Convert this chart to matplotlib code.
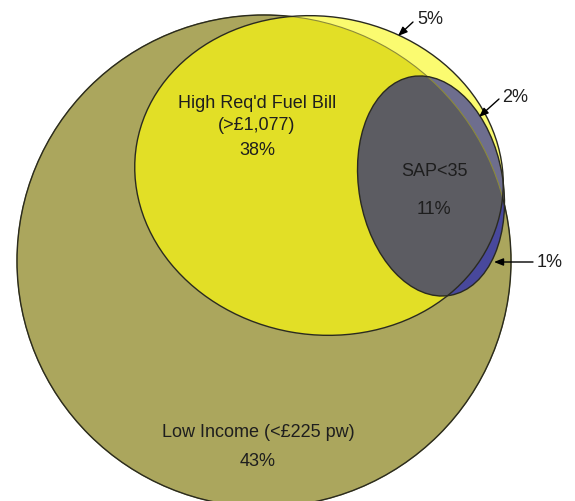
import numpy as np
import matplotlib.pyplot as plt
from matplotlib.patches import Ellipse
from matplotlib.path import Path

# === Data ===
set_labels = ["Low Income (<£225 pw)", "High Req'd Fuel Bill", "SAP<35"]
set_notes = ["", "(>£1,077)", ""]
set_shares = [43, 38, 11]
sliver_shares = [5, 2, 1]   # yellow outside olive, grey outside olive, grey outside yellow

# === Geometry / styles (pixel coords, y down) ===
W, H = 575, 502
OLIVE = dict(xy=(264, 262), width=494, height=492, angle=0)
YELLOW = dict(xy=(319, 176.5), width=370, height=318, angle=10)
GREY = dict(xy=(431, 187), width=144, height=222, angle=-10)

C_OLIVE = '#aba65d'
C_YEL_IN = '#e2df26'
C_YEL_OUT = '#fbfb70'
C_DARK = '#5c5c62'
C_SLATE = '#6e6e8e'
C_BLUE = '#48489c'
C_EDGE = '#2a2a20'
C_TEXT = '#1e1e1e'

plt.rcParams['font.family'] = ['Liberation Sans', 'DejaVu Sans']

fig = plt.figure(figsize=(W / 100, H / 100), dpi=100)
ax = fig.add_axes([0, 0, 1, 1])
ax.set_xlim(0, W)
ax.set_ylim(H, 0)
ax.set_aspect('equal')
ax.axis('off')


def ell(geom, **kw):
    return Ellipse(geom['xy'], geom['width'], geom['height'], angle=geom['angle'], **kw)


def ell_path(geom, n=400):
    t = np.linspace(0, 2 * np.pi, n)
    a, b = geom['width'] / 2, geom['height'] / 2
    th = np.deg2rad(geom['angle'])
    x = a * np.cos(t)
    y = b * np.sin(t)
    xr = geom['xy'][0] + x * np.cos(th) - y * np.sin(th)
    yr = geom['xy'][1] + x * np.sin(th) + y * np.cos(th)
    return np.column_stack([xr, yr])


def complement(geom):
    # rectangle with the ellipse cut out
    rect = np.array([[-10, -10], [W + 10, -10], [W + 10, H + 10], [-10, H + 10], [-10, -10]])
    hole = ell_path(geom)[::-1]
    verts = np.vstack([rect, hole])
    codes = ([Path.MOVETO] + [Path.LINETO] * 3 + [Path.CLOSEPOLY]
             + [Path.MOVETO] + [Path.LINETO] * (len(hole) - 2) + [Path.CLOSEPOLY])
    return Path(verts, codes)


# olive circle
olive = ell(OLIVE, fc=C_OLIVE, ec='none', zorder=1)
ax.add_patch(olive)

# yellow ellipse: pale outside olive, vivid inside
ax.add_patch(ell(YELLOW, fc=C_YEL_OUT, ec='none', zorder=2))
yin = ell(YELLOW, fc=C_YEL_IN, ec='none', zorder=3)
ax.add_patch(yin)
yin.set_clip_path(olive)

# grey ellipse: dark where in both, blue outside yellow, slate outside olive
ax.add_patch(ell(GREY, fc=C_DARK, ec='none', zorder=4))
gb = ell(GREY, fc=C_BLUE, ec='none', zorder=5)
ax.add_patch(gb)
gb.set_clip_path(complement(YELLOW), ax.transData)
gs = ell(GREY, fc=C_SLATE, ec='none', zorder=5)
ax.add_patch(gs)
gs.set_clip_path(complement(OLIVE), ax.transData)

# outlines
ax.add_patch(ell(OLIVE, fc='none', ec='#8c8a3a', lw=0.8, zorder=6))
yo = ell(OLIVE, fc='none', ec=C_EDGE, lw=1.0, zorder=7)
ax.add_patch(yo)
yo.set_clip_path(complement(YELLOW), ax.transData)
ax.add_patch(ell(YELLOW, fc='none', ec=C_EDGE, lw=1.0, zorder=7))
ax.add_patch(ell(GREY, fc='none', ec=C_EDGE, lw=1.0, zorder=8))

# labels
fs = 13
txt = dict(ha='center', va='center', fontsize=fs, color=C_TEXT, zorder=10)
ax.text(258, 433, set_labels[0], **txt)
ax.text(258, 462, f"{set_shares[0]}%", **txt)
ax.text(257, 103, set_labels[1], **txt)
ax.text(257, 126, set_notes[1], **txt)
ax.text(257, 151, f"{set_shares[1]}%", **txt)
ax.text(434, 172, set_labels[2], **txt)
ax.text(434, 210, f"{set_shares[2]}%", **txt)

# sliver annotations
arrow = dict(arrowstyle='-|>,head_length=0.55,head_width=0.22', color='black', lw=1.0,
             shrinkA=0, shrinkB=0)
ann = [((398, 37), (413, 23), (430, 20)),
       ((479, 118), (499, 100), (515, 98)),
       ((494, 263), (533, 263), (550, 263))]
for val, (head, tail, pos) in zip(sliver_shares, ann):
    ax.annotate('', xy=head, xytext=tail, arrowprops=arrow, zorder=11)
    ax.text(pos[0], pos[1], f"{val}%", **txt)

fig.savefig('out.png', dpi=100)
